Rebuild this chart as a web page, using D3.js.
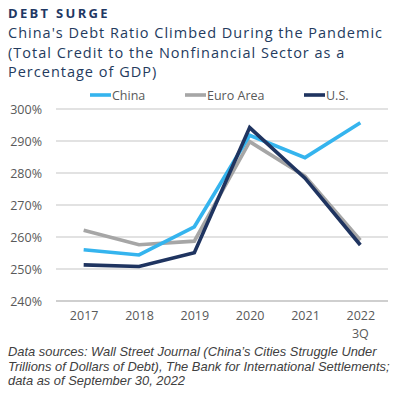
<!DOCTYPE html>
<html>
<head>
<meta charset="utf-8">
<script src="https://cdn.jsdelivr.net/npm/d3@7"></script>
<style>
  body { margin: 0; background: #fff; }
  svg text { font-family: "Open Sans", sans-serif; }
</style>
</head>
<body>
<div id="chart"></div>
<script>
const years = ["2017", "2018", "2019", "2020", "2021", "2022"];
const china = [256.0, 254.4, 263.2, 291.8, 284.8, 295.7];
const euroArea = [262.1, 257.6, 258.7, 289.8, 279.0, 259.0];
const us = [251.3, 250.8, 255.1, 294.2, 278.4, 257.5];
const yTicks = [240, 250, 260, 270, 280, 290, 300];

const width = 402, height = 398;
const margin = {top: 109, right: 14, bottom: 97, left: 56};

const svg = d3.select('#chart')
    .append('svg')
    .attr('width', width)
    .attr('height', height);

// titles
svg.append('text')
    .attr('x', 8).attr('y', 18)
    .attr('fill', '#1f3864')
    .style('font-size', '13px')
    .style('font-weight', 'bold')
    .style('letter-spacing', '2.3px')
    .text('DEBT SURGE');

const sub = ["China's Debt Ratio Climbed During the Pandemic",
             "(Total Credit to the Nonfinancial Sector as a",
             "Percentage of GDP)"];
svg.selectAll('.sub')
    .data(sub)
    .enter().append('text')
    .attr('class', 'sub')
    .attr('x', 8)
    .attr('y', (d, i) => 38 + i * 19.5)
    .attr('fill', '#243b5e')
    .style('font-size', '14.5px')
    .style('letter-spacing', '1px')
    .text(d => d);

const g = svg.append('g')
    .attr('transform', 'translate(' + margin.left + ',' + margin.top + ')');

const w = width - margin.left - margin.right,
      h = height - margin.top - margin.bottom;

const x = d3.scalePoint()
    .domain(years)
    .range([0, w])
    .padding(0.5);

const y = d3.scaleLinear()
    .domain([240, 300])
    .range([h, 0]);

// grid
g.selectAll('.grid')
    .data(yTicks)
    .enter().append('line')
    .attr('x1', 0).attr('x2', w)
    .attr('y1', d => y(d)).attr('y2', d => y(d))
    .attr('stroke', d => d === 240 ? '#bfbfbf' : '#d9d9d9')
    .attr('stroke-width', 1.3);

// y axis
const yAxis = d3.axisLeft(y)
    .tickValues(yTicks)
    .tickSize(0)
    .tickPadding(14)
    .tickFormat(d => d + '%');
g.append('g')
    .call(yAxis)
    .call(a => a.select('.domain').remove())
    .selectAll('text')
    .attr('fill', '#595959')
    .style('font-size', '12.5px');

// x axis
const xAxis = d3.axisBottom(x).tickSize(0).tickPadding(10);
const xa = g.append('g')
    .attr('transform', 'translate(0,' + h + ')')
    .call(xAxis);
xa.select('.domain').remove();
xa.selectAll('text')
    .attr('fill', '#595959')
    .style('font-size', '12.5px');
xa.append('text')
    .attr('x', x('2022'))
    .attr('y', 37)
    .attr('text-anchor', 'middle')
    .attr('fill', '#595959')
    .style('font-size', '12.5px')
    .text('3Q');

const series = [
    {name: 'Euro Area', values: euroArea, color: '#a6a6a6'},
    {name: 'China', values: china, color: '#35b4ee'},
    {name: 'U.S.', values: us, color: '#1f3460'}
];

const line = d3.line()
    .x((d, i) => x(years[i]))
    .y(d => y(d));

g.selectAll('.series')
    .data(series)
    .enter().append('path')
    .attr('class', 'series')
    .attr('d', d => line(d.values))
    .attr('fill', 'none')
    .attr('stroke', d => d.color)
    .attr('stroke-width', 3.6)
    .attr('stroke-linejoin', 'miter');

// legend
const legendItems = [
    {name: 'China', color: '#35b4ee', x: 90},
    {name: 'Euro Area', color: '#a6a6a6', x: 185},
    {name: 'U.S.', color: '#1f3460', x: 304}
];
const lg = svg.selectAll('.legend')
    .data(legendItems)
    .enter().append('g')
    .attr('class', 'legend')
    .attr('transform', d => 'translate(' + d.x + ',95)');
lg.append('line')
    .attr('x1', 0).attr('x2', 21)
    .attr('stroke', d => d.color)
    .attr('stroke-width', 3.6);
lg.append('text')
    .attr('x', 22)
    .attr('y', 4.5)
    .attr('fill', '#595959')
    .style('font-size', '12.5px')
    .text(d => d.name);

// footnote
const notes = ["Data sources: Wall Street Journal (China\u2019s Cities Struggle Under",
               "Trillions of Dollars of Debt), The Bank for International Settlements;",
               "data as of September 30, 2022"];
svg.selectAll('.note')
    .data(notes)
    .enter().append('text')
    .attr('class', 'note')
    .attr('x', 8)
    .attr('y', (d, i) => 356 + i * 14.5)
    .attr('fill', '#404040')
    .style('font-family', '"Liberation Sans", sans-serif')
    .style('font-size', '12.9px')
    .style('font-style', 'italic')
    .text(d => d);
</script>
</body>
</html>
